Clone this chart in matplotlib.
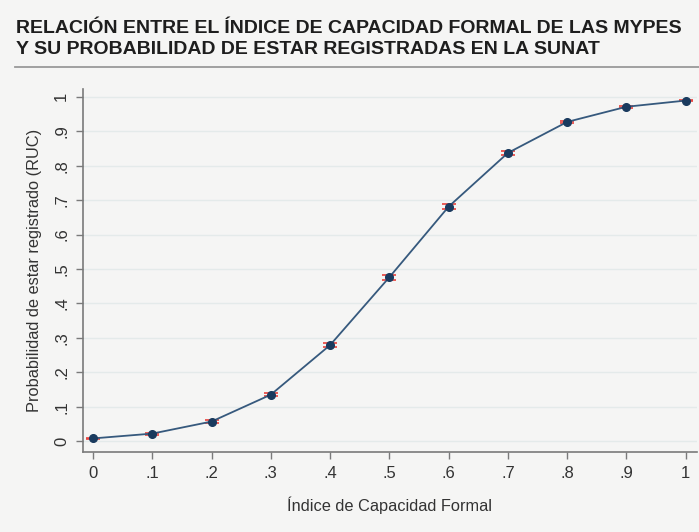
import matplotlib
matplotlib.use("Agg")
import matplotlib.pyplot as plt
from matplotlib.lines import Line2D

plt.rcParams['font.family'] = ['Liberation Sans', 'DejaVu Sans']

x_vals = [0, 0.1, 0.2, 0.3, 0.4, 0.5, 0.6, 0.7, 0.8, 0.9, 1.0]
y_vals = [0.008, 0.022, 0.057, 0.135, 0.279, 0.476, 0.681, 0.837, 0.927, 0.971, 0.989]
ci_half = [0.002, 0.003, 0.004, 0.005, 0.005, 0.007, 0.008, 0.006, 0.004, 0.003, 0.002]
x_ticks = [0, 0.1, 0.2, 0.3, 0.4, 0.5, 0.6, 0.7, 0.8, 0.9, 1.0]
x_ticklabels = ['0', '.1', '.2', '.3', '.4', '.5', '.6', '.7', '.8', '.9', '1']
y_ticks = [0, 0.1, 0.2, 0.3, 0.4, 0.5, 0.6, 0.7, 0.8, 0.9, 1.0]
y_ticklabels = ['0', '.1', '.2', '.3', '.4', '.5', '.6', '.7', '.8', '.9', '1']

title = "RELACIÓN ENTRE EL ÍNDICE DE CAPACIDAD FORMAL DE LAS MYPES\nY SU PROBABILIDAD DE ESTAR REGISTRADAS EN LA SUNAT"
xlabel = "Índice de Capacidad Formal"
ylabel = "Probabilidad de estar registrado (RUC)"

bg = '#f5f5f4'
fig = plt.figure(figsize=(6.99, 5.32), dpi=100, facecolor=bg)
ax = fig.add_axes([0.1187, 0.150, 0.878, 0.683], facecolor=bg)

ax.errorbar(x_vals, y_vals, yerr=ci_half, fmt='none', ecolor='#e8413c',
            elinewidth=1.2, capsize=5, capthick=1.2, zorder=2)
ax.plot(x_vals, y_vals, color='#36597d', lw=1.3, zorder=3)
ax.plot(x_vals, y_vals, 'o', color='#1a3a5e', ms=5.5, zorder=4)

ax.set_xlim(-0.0169, 1.0185)
ax.set_ylim(-0.032, 1.023)
ax.set_xticks(x_ticks)
ax.set_xticklabels(x_ticklabels)
ax.set_yticks(y_ticks)
ax.set_yticklabels(y_ticklabels, rotation=90, va='center')
ax.yaxis.grid(True, color='#e4eaea', lw=1.0)
ax.set_axisbelow(True)
for s in ['top', 'right']:
    ax.spines[s].set_visible(False)
for s in ['left', 'bottom']:
    ax.spines[s].set_color('#7a7a7a')
    ax.spines[s].set_linewidth(1.2)
ax.tick_params(direction='out', length=5, width=1, color='#7a7a7a',
               labelsize=12, labelcolor='#333333', pad=5)
ax.set_xlabel(xlabel, fontsize=11.8, color='#333333', labelpad=11)
ax.set_ylabel(ylabel, fontsize=11.8, color='#333333', labelpad=9)

fig.text(0.023, 0.962, title, fontsize=14, fontweight='bold', color='#1e1e1e',
         va='top', ha='left', linespacing=1.3)
fig.add_artist(Line2D([0.021, 1.0], [0.875, 0.875], color='#9a9a9a', lw=1.3,
                      transform=fig.transFigure))

fig.savefig('out.png', dpi=100, facecolor=bg)
